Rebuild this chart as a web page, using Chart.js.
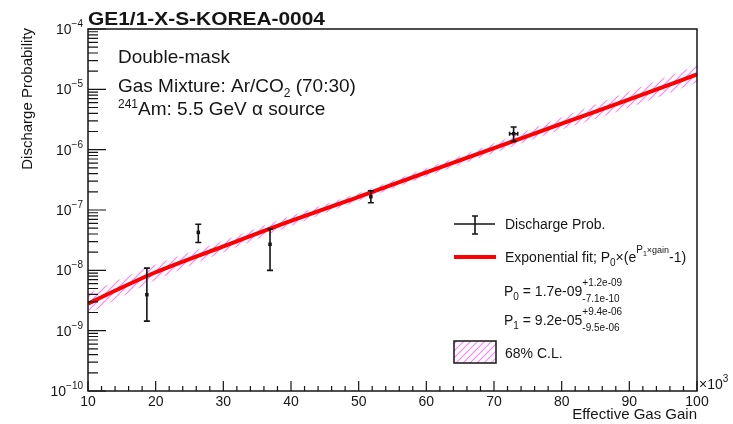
<!DOCTYPE html>
<html>
<head>
<meta charset="utf-8">
<script src="https://cdn.jsdelivr.net/npm/chart.js@4.4.1/dist/chart.umd.min.js"></script>
<style>
  body { margin: 0; background: #fff; }
  #wrap { width: 733px; height: 424px; position: relative; }
</style>
</head>
<body>
<div id="wrap"><canvas id="grafica"></canvas></div>
<script>
// measured points, gain in units of 10^3
const gain = [18.7, 26.3, 36.9, 51.8, 72.9]
const prob = [3.95e-9, 4.25e-8, 2.7e-8, 1.66e-7, 1.84e-6]
const probLow = [1.44e-9, 2.9e-8, 1.0e-8, 1.32e-7, 1.37e-6]
const probHigh = [1.09e-8, 5.8e-8, 4.85e-8, 2.09e-7, 2.38e-6]
const gainErr = [0, 0, 0, 0, 0.6]

// fit curve and 68% band
const fitGain = [10, 15, 20, 30, 40, 50, 60, 70, 80, 90, 100]
const fitProb = [2.8e-9, 5.2e-9, 9.3e-9, 2.5e-8, 6.6e-8, 1.65e-7, 4.2e-7, 1.06e-6, 2.7e-6, 6.8e-6, 1.77e-5]
const bandUp = [4.1e-9, 7.3e-9, 1.25e-8, 3.1e-8, 8.0e-8, 1.92e-7, 4.9e-7, 1.28e-6, 3.4e-6, 9.2e-6, 2.5e-5]
const bandLow = [1.9e-9, 3.7e-9, 6.9e-9, 2.0e-8, 5.45e-8, 1.42e-7, 3.6e-7, 8.8e-7, 2.15e-6, 5.0e-6, 1.3e-5]

const xTicks = [10, 20, 30, 40, 50, 60, 70, 80, 90, 100]
const yDecades = [-10, -9, -8, -7, -6, -5, -4]

const FONT = '"Liberation Sans", Arial, Helvetica, sans-serif'
const INK = '#151515'
const font = (s, b) => (b ? 'bold ' : '') + s + 'px ' + FONT

const ctx = document.getElementById('grafica')
const c2d = ctx.getContext('2d')

// ROOT-like hatch
function makeHatch() {
  const c = document.createElement('canvas')
  c.width = 7; c.height = 7
  const g = c.getContext('2d')
  g.strokeStyle = 'rgba(255,90,255,0.8)'
  g.lineWidth = 1.1
  g.beginPath(); g.moveTo(-1, 8); g.lineTo(8, -1); g.stroke()
  g.beginPath(); g.moveTo(-1, 1); g.lineTo(1, -1); g.stroke()
  g.beginPath(); g.moveTo(6, 8); g.lineTo(8, 6); g.stroke()
  return c2d.createPattern(c, 'repeat')
}
const hatch = makeHatch()

const pts = (xs, ys) => xs.map((x, i) => ({x: x, y: ys[i]}))

function drawRich(c, x, y, parts) {
  parts.forEach(p => {
    c.font = font(p.s)
    c.fillText(p.t, x, y + (p.dy || 0))
    if (!p.stay) x += c.measureText(p.t).width
  })
  return x
}

const errorBars = {
  id: 'errorBars',
  afterDatasetsDraw(chart) {
    const c = chart.ctx, xs = chart.scales.x, ys = chart.scales.y
    c.save()
    c.strokeStyle = INK
    c.lineWidth = 1.6
    gain.forEach((g, i) => {
      const px = xs.getPixelForValue(g)
      const py = ys.getPixelForValue(prob[i])
      const top = ys.getPixelForValue(probHigh[i])
      const bot = ys.getPixelForValue(probLow[i])
      c.beginPath()
      c.moveTo(px, top); c.lineTo(px, bot)
      c.moveTo(px - 3, top); c.lineTo(px + 3, top)
      c.moveTo(px - 3, bot); c.lineTo(px + 3, bot)
      if (gainErr[i] > 0) {
        const l = xs.getPixelForValue(g - gainErr[i])
        const r = xs.getPixelForValue(g + gainErr[i])
        c.moveTo(l, py); c.lineTo(r, py)
        c.moveTo(l, py - 2); c.lineTo(l, py + 2)
        c.moveTo(r, py - 2); c.lineTo(r, py + 2)
      }
      c.stroke()
    })
    c.restore()
  }
}

const frame = {
  id: 'frame',
  afterDraw(chart) {
    const c = chart.ctx, a = chart.chartArea
    const xs = chart.scales.x, ys = chart.scales.y
    c.save()
    c.strokeStyle = INK
    c.fillStyle = INK
    c.lineWidth = 1.5
    c.strokeRect(a.left, a.top, a.right - a.left, a.bottom - a.top)

    // y ticks, log
    c.lineWidth = 1.2
    c.beginPath()
    yDecades.forEach(d => {
      const py = ys.getPixelForValue(Math.pow(10, d))
      c.moveTo(a.left, py); c.lineTo(a.left + 18, py)
      if (d < -4) {
        for (let m = 2; m < 10; m++) {
          const pm = ys.getPixelForValue(m * Math.pow(10, d))
          c.moveTo(a.left, pm); c.lineTo(a.left + 10, pm)
        }
      }
    })
    // x ticks
    for (let v = 10; v <= 100; v += 2) {
      const px = xs.getPixelForValue(v)
      const len = v % 10 === 0 ? 10 : 5
      c.moveTo(px, a.bottom); c.lineTo(px, a.bottom - len)
    }
    c.stroke()

    // y tick labels 10^n
    c.textBaseline = 'alphabetic'
    c.textAlign = 'left'
    yDecades.forEach(d => {
      const py = ys.getPixelForValue(Math.pow(10, d))
      const exp = '\u2212' + Math.abs(d)
      c.font = font(14); const w1 = c.measureText('10').width
      c.font = font(10); const w2 = c.measureText(exp).width
      const x0 = 83 - w1 - w2
      drawRich(c, x0, py + 5, [{t: '10', s: 14}, {t: exp, s: 10, dy: -7}])
    })

    // x10^3
    drawRich(c, 699, 389, [{t: '\u00d710', s: 14}, {t: '3', s: 10, dy: -7}])

    // axis titles
    c.font = font(15)
    c.textAlign = 'right'
    c.fillText('Effective Gas Gain', a.right, 419)
    c.save()
    c.translate(32, 28)
    c.rotate(-Math.PI / 2)
    c.fillText('Discharge Probability', 0, 0)
    c.restore()

    // title, stretched a bit to match the reference width
    c.textAlign = 'left'
    c.font = font(18, true)
    const tw = c.measureText('GE1/1-X-S-KOREA-0004').width
    c.save()
    c.translate(88, 25)
    c.scale(237 / tw, 1)
    c.fillText('GE1/1-X-S-KOREA-0004', 0, 0)
    c.restore()

    // text box
    drawRich(c, 118, 63, [{t: 'Double-mask', s: 19}])
    drawRich(c, 118, 92, [{t: 'Gas Mixture: Ar/CO', s: 19}, {t: '2', s: 12, dy: 5}, {t: ' (70:30)', s: 19}])
    drawRich(c, 118, 115, [{t: '241', s: 12, dy: -7}, {t: 'Am: 5.5 GeV \u03b1 source', s: 19}])

    // legend
    c.lineWidth = 1.6
    c.beginPath()
    c.moveTo(454, 224); c.lineTo(495, 224)
    c.moveTo(475, 216); c.lineTo(475, 234)
    c.moveTo(472, 216); c.lineTo(478, 216)
    c.moveTo(472, 234); c.lineTo(478, 234)
    c.stroke()
    drawRich(c, 505, 229, [{t: 'Discharge Prob.', s: 14}])

    c.strokeStyle = '#ff0000'
    c.lineWidth = 4
    c.beginPath(); c.moveTo(454, 257); c.lineTo(496, 257); c.stroke()
    drawRich(c, 505, 262, [
      {t: 'Exponential fit; P', s: 14}, {t: '0', s: 10, dy: 4},
      {t: '\u00d7(e', s: 14}, {t: 'P', s: 10, dy: -9}, {t: '1', s: 7, dy: -6},
      {t: '\u00d7gain', s: 9, dy: -9}, {t: '-1)', s: 14}
    ])

    drawRich(c, 504, 296, [
      {t: 'P', s: 14}, {t: '0', s: 10, dy: 4}, {t: ' = 1.7e-09', s: 14},
      {t: '+1.2e-09', s: 10, dy: -10, stay: true}, {t: '-7.1e-10', s: 10, dy: 6}
    ])
    drawRich(c, 504, 325, [
      {t: 'P', s: 14}, {t: '1', s: 10, dy: 4}, {t: ' = 9.2e-05', s: 14},
      {t: '+9.4e-06', s: 10, dy: -10, stay: true}, {t: '-9.5e-06', s: 10, dy: 6}
    ])

    c.fillStyle = hatch
    c.fillRect(454, 341, 42, 22)
    c.strokeStyle = INK
    c.lineWidth = 1.5
    c.strokeRect(454, 341, 42, 22)
    c.fillStyle = INK
    drawRich(c, 505, 358, [{t: '68% C.L.', s: 14}])
    c.restore()
  }
}

new Chart(ctx, {
  type: 'line',
  data: {
    datasets: [
      {
        label: 'band up',
        data: pts(fitGain, bandUp),
        borderWidth: 0,
        pointRadius: 0,
        fill: '+1',
        backgroundColor: hatch,
        cubicInterpolationMode: 'monotone',
        order: 3
      },
      {
        label: 'band low',
        data: pts(fitGain, bandLow),
        borderWidth: 0,
        pointRadius: 0,
        fill: false,
        cubicInterpolationMode: 'monotone',
        order: 4
      },
      {
        label: 'Exponential fit',
        data: pts(fitGain, fitProb),
        borderColor: '#ff0000',
        borderWidth: 4,
        pointRadius: 0,
        fill: false,
        cubicInterpolationMode: 'monotone',
        order: 2
      },
      {
        label: 'Discharge Prob.',
        data: pts(gain, prob),
        showLine: false,
        pointStyle: 'rect',
        pointRadius: 2.5,
        backgroundColor: INK,
        borderColor: INK,
        borderWidth: 0,
        order: 1
      }
    ]
  },
  options: {
    responsive: true,
    maintainAspectRatio: false,
    animation: false,
    layout: { padding: { left: 0, right: 36, top: 29, bottom: 0 } },
    plugins: { legend: { display: false }, tooltip: { enabled: false } },
    scales: {
      x: {
        type: 'linear',
        min: 10,
        max: 100,
        grid: { display: false, drawTicks: false },
        border: { display: false },
        afterBuildTicks: s => { s.ticks = xTicks.map(v => ({value: v})) },
        ticks: { color: INK, font: { size: 14, family: FONT }, padding: 3, maxRotation: 0 },
        afterFit: s => { s.height = 33 }
      },
      y: {
        type: 'logarithmic',
        min: 1e-10,
        max: 1e-4,
        grid: { display: false },
        border: { display: false },
        ticks: { display: false },
        afterFit: s => { s.width = 88 }
      }
    }
  },
  plugins: [errorBars, frame]
})
</script>
</body>
</html>
